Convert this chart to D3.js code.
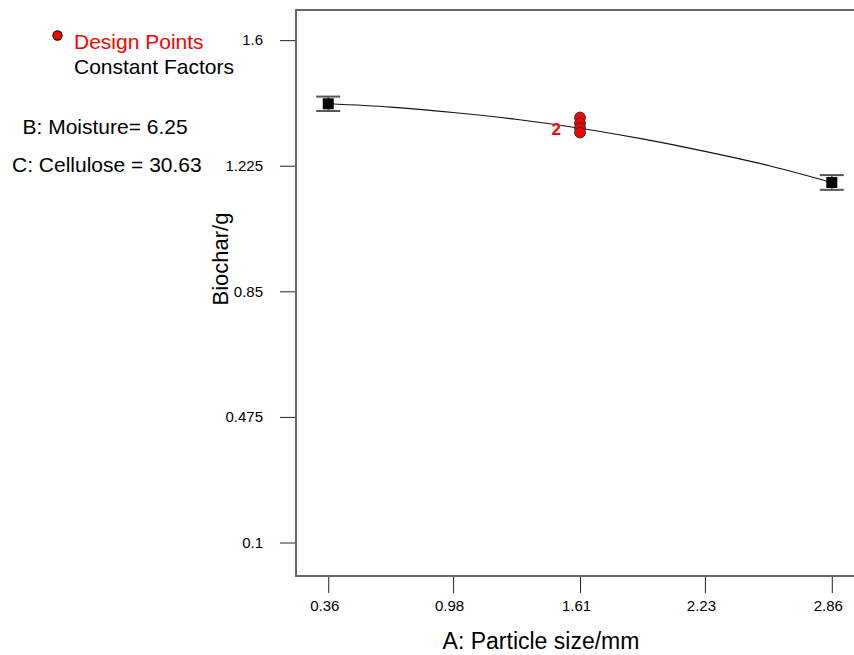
<!DOCTYPE html>
<html>
<head>
<meta charset="UTF-8">
<title>Biochar vs particle size</title>
<script src="https://d3js.org/d3.v7.min.js"></script>
<style>
body { margin: 0; background: #fff; }
svg { display: block; font-family: "Liberation Sans", Arial, sans-serif; }
</style>
</head>
<body>
<div id="chart"></div>
<script>
// tick labels
var xTicks = [0.36, 0.98, 1.61, 2.23, 2.86];
var yTicks = [0.1, 0.475, 0.85, 1.225, 1.6];

// predicted curve
var curveX = [0.36, 0.67, 0.98, 1.30, 1.61, 1.92, 2.23, 2.55, 2.86];
var curveY = [1.410, 1.400, 1.384, 1.363, 1.337, 1.305, 1.268, 1.225, 1.175];

// factor ends with error bars
var endX = [0.36, 2.86];
var endY = [1.410, 1.175];
var endErr = [0.0215, 0.022];

// design points (centre point), count = replicates drawn on top of each other
var designX = [1.61, 1.61, 1.61, 1.61];
var designY = [1.369, 1.352, 1.337, 1.324];
var designCount = [1, 1, 2, 1];

var legendItems = ["Design Points", "Constant Factors"];
var constantFactors = ["B: Moisture= 6.25", "C: Cellulose = 30.63"];
var xTitle = "A: Particle size/mm";
var yTitle = "Biochar/g";

var W = 854, H = 655;
// plot frame edges (note: "top" is reserved on window, so use pl/pt/pb/pr)
var pl = 296, pt = 10, pb = 576, pr = 860;

var x = d3.scaleLinear().domain([0.2, 3.0]).range([pl, pr]);
var y = d3.scaleLinear().domain([0, 1.69]).range([pb, pt]);

var svg = d3.select("#chart").append("svg")
  .attr("width", W)
  .attr("height", H);

// frame (open on the right, it runs off the page)
svg.append("path")
  .attr("d", "M" + pr + "," + pt + "H" + pl + "V" + pb + "H" + pr)
  .attr("fill", "none")
  .attr("stroke", "#666")
  .attr("stroke-width", 2);

// y axis
var yAxis = d3.axisLeft(y).tickValues(yTicks).tickSize(15).tickPadding(17)
  .tickFormat(function(d){ return String(d); });
var gy = svg.append("g").attr("transform", "translate(" + (pl - 1) + ",0)").call(yAxis);
gy.select(".domain").remove();
gy.selectAll("line").attr("stroke", "#222");
gy.selectAll("text").attr("font-size", 15).attr("fill", "#000")
  .attr("font-family", "Liberation Sans, Arial, sans-serif");

// x axis
var xAxis = d3.axisBottom(x).tickValues(xTicks).tickSize(16).tickPadding(7)
  .tickFormat(function(d){ return String(d); });
var gx = svg.append("g").attr("transform", "translate(0," + (pb + 1) + ")").call(xAxis);
gx.select(".domain").remove();
gx.selectAll("line").attr("stroke", "#222");
gx.selectAll("text").attr("font-size", 15).attr("fill", "#000")
  .attr("transform", "translate(-4,0)")
  .attr("font-family", "Liberation Sans, Arial, sans-serif");

// axis titles
svg.append("text")
  .attr("x", 541)
  .attr("y", 649)
  .attr("text-anchor", "middle")
  .attr("font-size", 23)
  .text(xTitle);

svg.append("text")
  .attr("transform", "translate(228,259) rotate(-90)")
  .attr("text-anchor", "middle")
  .attr("font-size", 22)
  .text(yTitle);

// prediction curve
var line = d3.line()
  .x(function(d, i){ return x(curveX[i]); })
  .y(function(d){ return y(d); })
  .curve(d3.curveMonotoneX);

svg.append("path")
  .datum(curveY)
  .attr("d", line)
  .attr("fill", "none")
  .attr("stroke", "#111")
  .attr("stroke-width", 1.2);

// end points with error bars
var ends = svg.selectAll(".end").data(endY).enter().append("g").attr("class", "end");
ends.append("line")
  .attr("x1", function(d, i){ return x(endX[i]); })
  .attr("x2", function(d, i){ return x(endX[i]); })
  .attr("y1", function(d, i){ return y(d + endErr[i]); })
  .attr("y2", function(d, i){ return y(d - endErr[i]); })
  .attr("stroke", "#555").attr("stroke-width", 1.5);
ends.selectAll(".cap")
  .data(function(d, i){ return [[i, d + endErr[i]], [i, d - endErr[i]]]; })
  .enter().append("line")
  .attr("x1", function(c){ return x(endX[c[0]]) - 12; })
  .attr("x2", function(c){ return x(endX[c[0]]) + 12; })
  .attr("y1", function(c){ return y(c[1]); })
  .attr("y2", function(c){ return y(c[1]); })
  .attr("stroke", "#555").attr("stroke-width", 2);
ends.append("rect")
  .attr("x", function(d, i){ return x(endX[i]) - 5.5; })
  .attr("y", function(d){ return y(d) - 5.5; })
  .attr("width", 11).attr("height", 11)
  .attr("fill", "#000");

// design points
svg.selectAll(".dp").data(designY).enter().append("circle")
  .attr("class", "dp")
  .attr("cx", function(d, i){ return x(designX[i]); })
  .attr("cy", function(d){ return y(d); })
  .attr("r", 5.4)
  .attr("fill", "#f00")
  .attr("stroke", "#333")
  .attr("stroke-width", 1);

var repeated = designY.map(function(d, i){ return [d, designCount[i], designX[i]]; })
  .filter(function(p){ return p[1] > 1; });
svg.selectAll(".cnt").data(repeated).enter().append("text")
  .attr("class", "cnt")
  .attr("x", function(p){ return x(p[2]) - 19; })
  .attr("y", function(p){ return y(p[0]) + 7; })
  .attr("text-anchor", "end")
  .attr("font-size", 17)
  .attr("font-weight", "bold")
  .attr("fill", "#f00")
  .text(function(p){ return p[1]; });

// legend
svg.append("circle")
  .attr("cx", 57.5).attr("cy", 35.5).attr("r", 4.6)
  .attr("fill", "#f00").attr("stroke", "#000").attr("stroke-width", 1.2);

svg.selectAll(".leg").data(legendItems).enter().append("text")
  .attr("class", "leg")
  .attr("x", 74)
  .attr("y", function(d, i){ return 48.5 + i * 25; })
  .attr("font-size", 21)
  .attr("fill", function(d, i){ return i === 0 ? "#f00" : "#000"; })
  .text(function(d){ return d; });

svg.selectAll(".cf").data(constantFactors).enter().append("text")
  .attr("class", "cf")
  .attr("x", function(d, i){ return i === 0 ? 22.5 : 12; })
  .attr("y", function(d, i){ return 133.5 + i * 38; })
  .attr("font-size", 21)
  .text(function(d){ return d; });
</script>
</body>
</html>
